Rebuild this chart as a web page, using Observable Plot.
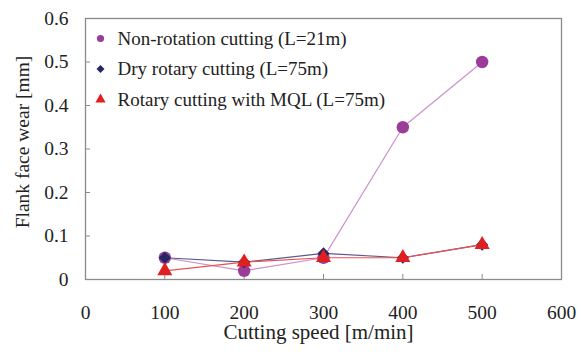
<!DOCTYPE html>
<html><head><meta charset="utf-8">
<script src="https://cdn.jsdelivr.net/npm/d3@7"></script>
<script src="https://cdn.jsdelivr.net/npm/@observablehq/plot@0.6"></script>
<style>
body{margin:0;background:#fff;}
#chart{position:relative;width:587px;height:352px;}
#chart svg, #chart svg text{font-family:"Liberation Serif","Times New Roman",serif !important;}
</style>
</head><body><div id="chart"></div>
<script>
const speeds = [100, 200, 300, 400, 500];
const seriesNames = ["Non-rotation cutting (L=21m)", "Dry rotary cutting (L=75m)", "Rotary cutting with MQL (L=75m)"];
const nonRotation = [0.05, 0.02, 0.05, 0.35, 0.50];
const dryRotary = [0.05, 0.04, 0.06, 0.05, 0.08];
const rotaryMQL = [0.02, 0.04, 0.05, 0.05, 0.08];
const xTicks = [0, 100, 200, 300, 400, 500, 600];
const yTicks = [0, 0.1, 0.2, 0.3, 0.4, 0.5, 0.6];

const styles = [
  {marker: "circle", fill: "#993d99", line: "#cc8fcc", r: 6.2, lr: 3.6},
  {marker: "diamond2", fill: "#262660", line: "#5a5a8c", r: 5.5, lr: 3.6},
  {marker: "triangle", fill: "#e02020", line: "#ee5050", r: 5.6, lr: 3.8}
];
const allSeries = [nonRotation, dryRotary, rotaryMQL];
const rows = [];
allSeries.forEach((vals, i) => speeds.forEach((s, j) => rows.push({series: seriesNames[i], idx: i, speed: s, wear: vals[j]})));

const font = "Liberation Serif";
const marks = [
  Plot.frame({stroke: "#8a8a8a", strokeWidth: 1.3}),
  Plot.axisX({ticks: xTicks, tickSize: -5, tickPadding: 31, fontSize: 19.5, tickFormat: d => String(d), stroke: "#8a8a8a", fill: "#222", label: null}),
  Plot.axisY({ticks: yTicks, tickSize: -5, tickPadding: 22, fontSize: 19.5, tickFormat: d => d === 0 ? "0" : String(d), stroke: "#8a8a8a", fill: "#222", label: null}),
  Plot.text(["Cutting speed [m/min]"], {frameAnchor: "bottom", dx: -5, dy: 53, lineAnchor: "middle", fontSize: 21, fill: "#222"}),
  Plot.text(["Flank face wear [mm]"], {frameAnchor: "left", dx: -63, dy: -7, rotate: -90, textAnchor: "middle", lineAnchor: "middle", fontSize: 19.5, fill: "#222"})
];
styles.forEach((st, i) => {
  const data = rows.filter(d => d.idx === i);
  marks.push(Plot.line(data, {x: "speed", y: "wear", stroke: st.line, strokeWidth: 1.2}));
});
styles.forEach((st, i) => {
  const data = rows.filter(d => d.idx === i);
  marks.push(Plot.dot(data, {x: "speed", y: "wear", symbol: () => st.marker, fill: st.fill, r: st.r, stroke: "none"}));
});
styles.forEach((st, i) => {
  marks.push(Plot.dot([seriesNames[i]], {frameAnchor: "top-left", dx: 15, dy: 20 + i * 30.5, symbol: () => st.marker, fill: st.fill, r: st.lr, stroke: "none"}));
  marks.push(Plot.text([seriesNames[i]], {frameAnchor: "top-left", dx: 32, dy: 20 + i * 30.5, text: d => d, textAnchor: "start", lineAnchor: "middle", fontSize: 19, fill: "#222"}));
});

const plot = Plot.plot({
  width: 587, height: 352,
  marginLeft: 85, marginRight: 26, marginTop: 18, marginBottom: 73,
  style: {fontFamily: font, background: "#fff"},
  x: {domain: [0, 600]},
  y: {domain: [0, 0.6]},
  symbol: {type: "identity"},
  marks
});
document.getElementById("chart").appendChild(plot);
</script>
</body></html>
